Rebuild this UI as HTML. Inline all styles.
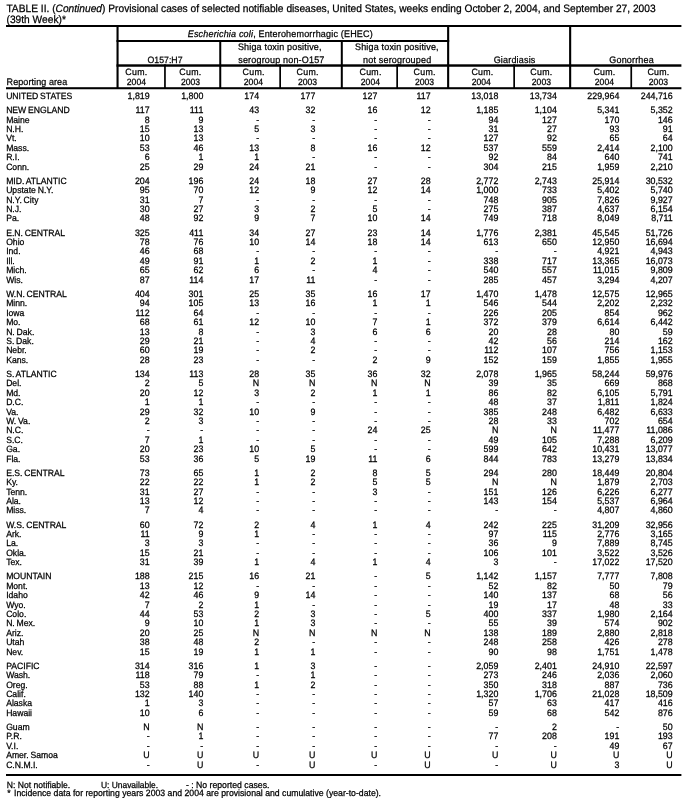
<!DOCTYPE html>
<html><head><meta charset="utf-8"><title>TABLE II</title>
<style>
html,body{margin:0;padding:0;background:#fff}
body{--sy:1.05;--st:0.24px;text-rendering:geometricPrecision;width:687px;height:806px;position:relative;overflow:hidden;font-family:"Liberation Sans",Arial,Helvetica,sans-serif;color:#000}
.x{position:absolute;line-height:10px;white-space:nowrap;transform:scaleY(var(--sy));-webkit-text-stroke:var(--st) #000}
.r{position:absolute;left:0;width:687px;height:10px;font-size:8.7px;line-height:10px;white-space:nowrap;transform:scaleY(var(--sy));transform-origin:0 8.01px;-webkit-text-stroke:var(--st) #000}
.l{position:absolute;left:6.15px;top:0;font-size:8.65px;word-spacing:-0.6px}
.n{position:absolute;top:0;text-align:right;font-size:8.85px}
.c0{right:537.30px}
.c1{right:483.70px}
.c2{right:427.90px}
.c3{right:371.70px}
.c4{right:309.70px}
.c5{right:256.40px}
.c6{right:188.70px}
.c7{right:130.20px}
.c8{right:67.70px}
.c9{right:14.30px}
.g{position:absolute;left:0;top:0}
</style></head><body>
<svg class="g" width="687" height="806" viewBox="0 0 687 806" shape-rendering="geometricPrecision" fill="#000">
<rect x="6.00" y="25.00" width="675.40" height="2.00"/>
<rect x="116.50" y="40.00" width="332.70" height="2.00"/>
<rect x="116.50" y="64.30" width="564.90" height="2.45"/>
<rect x="6.00" y="87.20" width="675.40" height="2.05"/>
<rect x="6.00" y="774.00" width="675.40" height="2.00"/>
<rect x="116.50" y="25.00" width="2.10" height="63.70"/>
<rect x="447.10" y="25.00" width="2.10" height="63.70"/>
<rect x="569.10" y="25.00" width="2.10" height="63.70"/>
<rect x="219.25" y="40.00" width="2.00" height="48.70"/>
<rect x="340.80" y="40.00" width="2.00" height="48.70"/>
<rect x="164.10" y="64.30" width="1.70" height="24.40"/>
<rect x="279.30" y="64.30" width="1.70" height="24.40"/>
<rect x="396.30" y="64.30" width="1.70" height="24.40"/>
<rect x="513.30" y="64.30" width="1.70" height="24.40"/>
<rect x="630.40" y="64.30" width="1.70" height="24.40"/>
</svg>
<div class="x" style="left:130.30px;width:300px;text-align:center;top:29.00px;font-size:9px;transform-origin:0 8.00px;letter-spacing:0.18px;"><i>Escherichia coli</i>, Enterohemorrhagic (EHEC)</div>
<div class="x" style="left:15.00px;width:300px;text-align:center;top:55.00px;font-size:8.75px;transform-origin:0 8.00px;">O157:H7</div>
<div class="x" style="left:129.80px;width:300px;text-align:center;top:42.00px;font-size:9px;transform-origin:0 8.00px;letter-spacing:0.18px;">Shiga toxin positive,</div>
<div class="x" style="left:131.40px;width:300px;text-align:center;top:55.00px;font-size:9px;transform-origin:0 8.00px;letter-spacing:0.18px;">serogroup non-O157</div>
<div class="x" style="left:246.90px;width:300px;text-align:center;top:42.00px;font-size:9px;transform-origin:0 8.00px;letter-spacing:0.18px;">Shiga toxin positive,</div>
<div class="x" style="left:247.20px;width:300px;text-align:center;top:55.00px;font-size:9px;transform-origin:0 8.00px;letter-spacing:0.18px;">not serogrouped</div>
<div class="x" style="left:364.60px;width:300px;text-align:center;top:55.00px;font-size:9px;transform-origin:0 8.00px;letter-spacing:0.18px;">Giardiasis</div>
<div class="x" style="left:481.60px;width:300px;text-align:center;top:55.00px;font-size:9px;transform-origin:0 8.00px;letter-spacing:0.18px;">Gonorrhea</div>
<div class="x" style="left:-13.60px;width:300px;text-align:center;top:67.00px;font-size:8.8px;transform-origin:0 7.90px;letter-spacing:0.3px;">Cum.</div>
<div class="x" style="left:-13.60px;width:300px;text-align:center;top:77.00px;font-size:8.6px;transform-origin:0 8.00px;">2004</div>
<div class="x" style="left:40.40px;width:300px;text-align:center;top:67.00px;font-size:8.8px;transform-origin:0 7.90px;letter-spacing:0.3px;">Cum.</div>
<div class="x" style="left:40.50px;width:300px;text-align:center;top:77.00px;font-size:8.6px;transform-origin:0 8.00px;">2003</div>
<div class="x" style="left:103.70px;width:300px;text-align:center;top:67.00px;font-size:8.8px;transform-origin:0 7.90px;letter-spacing:0.3px;">Cum.</div>
<div class="x" style="left:103.40px;width:300px;text-align:center;top:77.00px;font-size:8.6px;transform-origin:0 8.00px;">2004</div>
<div class="x" style="left:157.70px;width:300px;text-align:center;top:67.00px;font-size:8.8px;transform-origin:0 7.90px;letter-spacing:0.3px;">Cum.</div>
<div class="x" style="left:157.60px;width:300px;text-align:center;top:77.00px;font-size:8.6px;transform-origin:0 8.00px;">2003</div>
<div class="x" style="left:220.60px;width:300px;text-align:center;top:67.00px;font-size:8.8px;transform-origin:0 7.90px;letter-spacing:0.3px;">Cum.</div>
<div class="x" style="left:220.40px;width:300px;text-align:center;top:77.00px;font-size:8.6px;transform-origin:0 8.00px;">2004</div>
<div class="x" style="left:274.70px;width:300px;text-align:center;top:67.00px;font-size:8.8px;transform-origin:0 7.90px;letter-spacing:0.3px;">Cum.</div>
<div class="x" style="left:274.60px;width:300px;text-align:center;top:77.00px;font-size:8.6px;transform-origin:0 8.00px;">2003</div>
<div class="x" style="left:332.50px;width:300px;text-align:center;top:67.00px;font-size:8.8px;transform-origin:0 7.90px;letter-spacing:0.3px;">Cum.</div>
<div class="x" style="left:331.20px;width:300px;text-align:center;top:77.00px;font-size:8.6px;transform-origin:0 8.00px;">2004</div>
<div class="x" style="left:391.40px;width:300px;text-align:center;top:67.00px;font-size:8.8px;transform-origin:0 7.90px;letter-spacing:0.3px;">Cum.</div>
<div class="x" style="left:391.40px;width:300px;text-align:center;top:77.00px;font-size:8.6px;transform-origin:0 8.00px;">2003</div>
<div class="x" style="left:454.50px;width:300px;text-align:center;top:67.00px;font-size:8.8px;transform-origin:0 7.90px;letter-spacing:0.3px;">Cum.</div>
<div class="x" style="left:454.40px;width:300px;text-align:center;top:77.00px;font-size:8.6px;transform-origin:0 8.00px;">2004</div>
<div class="x" style="left:508.50px;width:300px;text-align:center;top:67.00px;font-size:8.8px;transform-origin:0 7.90px;letter-spacing:0.3px;">Cum.</div>
<div class="x" style="left:508.40px;width:300px;text-align:center;top:77.00px;font-size:8.6px;transform-origin:0 8.00px;">2003</div>
<div class="x" style="left:6.60px;top:77.00px;font-size:9px;transform-origin:0 8.00px;letter-spacing:0.08px;">Reporting area</div>
<div class="x" style="left:6.40px;top:5.00px;font-size:10.21px;transform-origin:0 6.90px;">TABLE II. (<i>Continued</i>) Provisional cases of selected notifiable diseases, United States, weeks ending October 2, 2004, and September 27, 2003</div>
<div class="x" style="left:6.50px;top:16.00px;font-size:10.21px;transform-origin:0 6.90px;">(39th Week)*</div>
<div class="x" style="left:6.70px;top:780.00px;font-size:8.6px;transform-origin:0 7.70px;">N: Not notifiable.</div>
<div class="x" style="left:100.90px;top:780.00px;font-size:8.45px;transform-origin:0 7.70px;">U: Unavailable.</div>
<div class="x" style="left:185.90px;top:780.00px;font-size:8.7px;transform-origin:0 7.70px;">- : No reported cases.</div>
<div class="x" style="left:7.30px;top:788.00px;font-size:8.7px;transform-origin:0 7.80px;">*</div>
<div class="x" style="left:14.00px;top:788.00px;font-size:8.7px;transform-origin:0 7.80px;">Incidence data for reporting years 2003 and 2004 are provisional and cumulative (year-to-date).</div>
<div class="r" style="top:91.00px"><span class="l">UNITED STATES</span><span class="n c0">1,819</span><span class="n c1">1,800</span><span class="n c2">174</span><span class="n c3">177</span><span class="n c4">127</span><span class="n c5">117</span><span class="n c6">13,018</span><span class="n c7">13,734</span><span class="n c8">229,964</span><span class="n c9">244,716</span></div>
<div class="r" style="top:105.00px"><span class="l">NEW ENGLAND</span><span class="n c0">117</span><span class="n c1">111</span><span class="n c2">43</span><span class="n c3">32</span><span class="n c4">16</span><span class="n c5">12</span><span class="n c6">1,185</span><span class="n c7">1,104</span><span class="n c8">5,341</span><span class="n c9">5,352</span></div>
<div class="r" style="top:115.00px"><span class="l">Maine</span><span class="n c0">8</span><span class="n c1">9</span><span class="n c2">-</span><span class="n c3">-</span><span class="n c4">-</span><span class="n c5">-</span><span class="n c6">94</span><span class="n c7">127</span><span class="n c8">170</span><span class="n c9">146</span></div>
<div class="r" style="top:124.00px"><span class="l">N.H.</span><span class="n c0">15</span><span class="n c1">13</span><span class="n c2">5</span><span class="n c3">3</span><span class="n c4">-</span><span class="n c5">-</span><span class="n c6">31</span><span class="n c7">27</span><span class="n c8">93</span><span class="n c9">91</span></div>
<div class="r" style="top:133.00px"><span class="l">Vt.</span><span class="n c0">10</span><span class="n c1">13</span><span class="n c2">-</span><span class="n c3">-</span><span class="n c4">-</span><span class="n c5">-</span><span class="n c6">127</span><span class="n c7">92</span><span class="n c8">65</span><span class="n c9">64</span></div>
<div class="r" style="top:143.00px"><span class="l">Mass.</span><span class="n c0">53</span><span class="n c1">46</span><span class="n c2">13</span><span class="n c3">8</span><span class="n c4">16</span><span class="n c5">12</span><span class="n c6">537</span><span class="n c7">559</span><span class="n c8">2,414</span><span class="n c9">2,100</span></div>
<div class="r" style="top:152.00px"><span class="l">R.I.</span><span class="n c0">6</span><span class="n c1">1</span><span class="n c2">1</span><span class="n c3">-</span><span class="n c4">-</span><span class="n c5">-</span><span class="n c6">92</span><span class="n c7">84</span><span class="n c8">640</span><span class="n c9">741</span></div>
<div class="r" style="top:162.00px"><span class="l">Conn.</span><span class="n c0">25</span><span class="n c1">29</span><span class="n c2">24</span><span class="n c3">21</span><span class="n c4">-</span><span class="n c5">-</span><span class="n c6">304</span><span class="n c7">215</span><span class="n c8">1,959</span><span class="n c9">2,210</span></div>
<div class="r" style="top:176.00px"><span class="l">MID. ATLANTIC</span><span class="n c0">204</span><span class="n c1">196</span><span class="n c2">24</span><span class="n c3">18</span><span class="n c4">27</span><span class="n c5">28</span><span class="n c6">2,772</span><span class="n c7">2,743</span><span class="n c8">25,914</span><span class="n c9">30,532</span></div>
<div class="r" style="top:185.00px"><span class="l">Upstate N.Y.</span><span class="n c0">95</span><span class="n c1">70</span><span class="n c2">12</span><span class="n c3">9</span><span class="n c4">12</span><span class="n c5">14</span><span class="n c6">1,000</span><span class="n c7">733</span><span class="n c8">5,402</span><span class="n c9">5,740</span></div>
<div class="r" style="top:195.00px"><span class="l">N.Y. City</span><span class="n c0">31</span><span class="n c1">7</span><span class="n c2">-</span><span class="n c3">-</span><span class="n c4">-</span><span class="n c5">-</span><span class="n c6">748</span><span class="n c7">905</span><span class="n c8">7,826</span><span class="n c9">9,927</span></div>
<div class="r" style="top:204.00px"><span class="l">N.J.</span><span class="n c0">30</span><span class="n c1">27</span><span class="n c2">3</span><span class="n c3">2</span><span class="n c4">5</span><span class="n c5">-</span><span class="n c6">275</span><span class="n c7">387</span><span class="n c8">4,637</span><span class="n c9">6,154</span></div>
<div class="r" style="top:213.00px"><span class="l">Pa.</span><span class="n c0">48</span><span class="n c1">92</span><span class="n c2">9</span><span class="n c3">7</span><span class="n c4">10</span><span class="n c5">14</span><span class="n c6">749</span><span class="n c7">718</span><span class="n c8">8,049</span><span class="n c9">8,711</span></div>
<div class="r" style="top:228.00px"><span class="l">E.N. CENTRAL</span><span class="n c0">325</span><span class="n c1">411</span><span class="n c2">34</span><span class="n c3">27</span><span class="n c4">23</span><span class="n c5">14</span><span class="n c6">1,776</span><span class="n c7">2,381</span><span class="n c8">45,545</span><span class="n c9">51,726</span></div>
<div class="r" style="top:237.00px"><span class="l">Ohio</span><span class="n c0">78</span><span class="n c1">76</span><span class="n c2">10</span><span class="n c3">14</span><span class="n c4">18</span><span class="n c5">14</span><span class="n c6">613</span><span class="n c7">650</span><span class="n c8">12,950</span><span class="n c9">16,694</span></div>
<div class="r" style="top:246.00px"><span class="l">Ind.</span><span class="n c0">46</span><span class="n c1">68</span><span class="n c2">-</span><span class="n c3">-</span><span class="n c4">-</span><span class="n c5">-</span><span class="n c6">-</span><span class="n c7">-</span><span class="n c8">4,921</span><span class="n c9">4,943</span></div>
<div class="r" style="top:256.00px"><span class="l">Ill.</span><span class="n c0">49</span><span class="n c1">91</span><span class="n c2">1</span><span class="n c3">2</span><span class="n c4">1</span><span class="n c5">-</span><span class="n c6">338</span><span class="n c7">717</span><span class="n c8">13,365</span><span class="n c9">16,073</span></div>
<div class="r" style="top:265.00px"><span class="l">Mich.</span><span class="n c0">65</span><span class="n c1">62</span><span class="n c2">6</span><span class="n c3">-</span><span class="n c4">4</span><span class="n c5">-</span><span class="n c6">540</span><span class="n c7">557</span><span class="n c8">11,015</span><span class="n c9">9,809</span></div>
<div class="r" style="top:275.00px"><span class="l">Wis.</span><span class="n c0">87</span><span class="n c1">114</span><span class="n c2">17</span><span class="n c3">11</span><span class="n c4">-</span><span class="n c5">-</span><span class="n c6">285</span><span class="n c7">457</span><span class="n c8">3,294</span><span class="n c9">4,207</span></div>
<div class="r" style="top:289.00px"><span class="l">W.N. CENTRAL</span><span class="n c0">404</span><span class="n c1">301</span><span class="n c2">25</span><span class="n c3">35</span><span class="n c4">16</span><span class="n c5">17</span><span class="n c6">1,470</span><span class="n c7">1,478</span><span class="n c8">12,575</span><span class="n c9">12,965</span></div>
<div class="r" style="top:298.00px"><span class="l">Minn.</span><span class="n c0">94</span><span class="n c1">105</span><span class="n c2">13</span><span class="n c3">16</span><span class="n c4">1</span><span class="n c5">1</span><span class="n c6">546</span><span class="n c7">544</span><span class="n c8">2,202</span><span class="n c9">2,232</span></div>
<div class="r" style="top:308.00px"><span class="l">Iowa</span><span class="n c0">112</span><span class="n c1">64</span><span class="n c2">-</span><span class="n c3">-</span><span class="n c4">-</span><span class="n c5">-</span><span class="n c6">226</span><span class="n c7">205</span><span class="n c8">854</span><span class="n c9">962</span></div>
<div class="r" style="top:317.00px"><span class="l">Mo.</span><span class="n c0">68</span><span class="n c1">61</span><span class="n c2">12</span><span class="n c3">10</span><span class="n c4">7</span><span class="n c5">1</span><span class="n c6">372</span><span class="n c7">379</span><span class="n c8">6,614</span><span class="n c9">6,442</span></div>
<div class="r" style="top:327.00px"><span class="l">N. Dak.</span><span class="n c0">13</span><span class="n c1">8</span><span class="n c2">-</span><span class="n c3">3</span><span class="n c4">6</span><span class="n c5">6</span><span class="n c6">20</span><span class="n c7">28</span><span class="n c8">80</span><span class="n c9">59</span></div>
<div class="r" style="top:336.00px"><span class="l">S. Dak.</span><span class="n c0">29</span><span class="n c1">21</span><span class="n c2">-</span><span class="n c3">4</span><span class="n c4">-</span><span class="n c5">-</span><span class="n c6">42</span><span class="n c7">56</span><span class="n c8">214</span><span class="n c9">162</span></div>
<div class="r" style="top:345.00px"><span class="l">Nebr.</span><span class="n c0">60</span><span class="n c1">19</span><span class="n c2">-</span><span class="n c3">2</span><span class="n c4">-</span><span class="n c5">-</span><span class="n c6">112</span><span class="n c7">107</span><span class="n c8">756</span><span class="n c9">1,153</span></div>
<div class="r" style="top:355.00px"><span class="l">Kans.</span><span class="n c0">28</span><span class="n c1">23</span><span class="n c2">-</span><span class="n c3">-</span><span class="n c4">2</span><span class="n c5">9</span><span class="n c6">152</span><span class="n c7">159</span><span class="n c8">1,855</span><span class="n c9">1,955</span></div>
<div class="r" style="top:369.00px"><span class="l">S. ATLANTIC</span><span class="n c0">134</span><span class="n c1">113</span><span class="n c2">28</span><span class="n c3">35</span><span class="n c4">36</span><span class="n c5">32</span><span class="n c6">2,078</span><span class="n c7">1,965</span><span class="n c8">58,244</span><span class="n c9">59,976</span></div>
<div class="r" style="top:378.00px"><span class="l">Del.</span><span class="n c0">2</span><span class="n c1">5</span><span class="n c2">N</span><span class="n c3">N</span><span class="n c4">N</span><span class="n c5">N</span><span class="n c6">39</span><span class="n c7">35</span><span class="n c8">669</span><span class="n c9">868</span></div>
<div class="r" style="top:388.00px"><span class="l">Md.</span><span class="n c0">20</span><span class="n c1">12</span><span class="n c2">3</span><span class="n c3">2</span><span class="n c4">1</span><span class="n c5">1</span><span class="n c6">86</span><span class="n c7">82</span><span class="n c8">6,105</span><span class="n c9">5,791</span></div>
<div class="r" style="top:397.00px"><span class="l">D.C.</span><span class="n c0">1</span><span class="n c1">1</span><span class="n c2">-</span><span class="n c3">-</span><span class="n c4">-</span><span class="n c5">-</span><span class="n c6">48</span><span class="n c7">37</span><span class="n c8">1,811</span><span class="n c9">1,824</span></div>
<div class="r" style="top:407.00px"><span class="l">Va.</span><span class="n c0">29</span><span class="n c1">32</span><span class="n c2">10</span><span class="n c3">9</span><span class="n c4">-</span><span class="n c5">-</span><span class="n c6">385</span><span class="n c7">248</span><span class="n c8">6,482</span><span class="n c9">6,633</span></div>
<div class="r" style="top:416.00px"><span class="l">W. Va.</span><span class="n c0">2</span><span class="n c1">3</span><span class="n c2">-</span><span class="n c3">-</span><span class="n c4">-</span><span class="n c5">-</span><span class="n c6">28</span><span class="n c7">33</span><span class="n c8">702</span><span class="n c9">654</span></div>
<div class="r" style="top:425.00px"><span class="l">N.C.</span><span class="n c0">-</span><span class="n c1">-</span><span class="n c2">-</span><span class="n c3">-</span><span class="n c4">24</span><span class="n c5">25</span><span class="n c6">N</span><span class="n c7">N</span><span class="n c8">11,477</span><span class="n c9">11,086</span></div>
<div class="r" style="top:435.00px"><span class="l">S.C.</span><span class="n c0">7</span><span class="n c1">1</span><span class="n c2">-</span><span class="n c3">-</span><span class="n c4">-</span><span class="n c5">-</span><span class="n c6">49</span><span class="n c7">105</span><span class="n c8">7,288</span><span class="n c9">6,209</span></div>
<div class="r" style="top:444.00px"><span class="l">Ga.</span><span class="n c0">20</span><span class="n c1">23</span><span class="n c2">10</span><span class="n c3">5</span><span class="n c4">-</span><span class="n c5">-</span><span class="n c6">599</span><span class="n c7">642</span><span class="n c8">10,431</span><span class="n c9">13,077</span></div>
<div class="r" style="top:454.00px"><span class="l">Fla.</span><span class="n c0">53</span><span class="n c1">36</span><span class="n c2">5</span><span class="n c3">19</span><span class="n c4">11</span><span class="n c5">6</span><span class="n c6">844</span><span class="n c7">783</span><span class="n c8">13,279</span><span class="n c9">13,834</span></div>
<div class="r" style="top:468.00px"><span class="l">E.S. CENTRAL</span><span class="n c0">73</span><span class="n c1">65</span><span class="n c2">1</span><span class="n c3">2</span><span class="n c4">8</span><span class="n c5">5</span><span class="n c6">294</span><span class="n c7">280</span><span class="n c8">18,449</span><span class="n c9">20,804</span></div>
<div class="r" style="top:477.00px"><span class="l">Ky.</span><span class="n c0">22</span><span class="n c1">22</span><span class="n c2">1</span><span class="n c3">2</span><span class="n c4">5</span><span class="n c5">5</span><span class="n c6">N</span><span class="n c7">N</span><span class="n c8">1,879</span><span class="n c9">2,703</span></div>
<div class="r" style="top:487.00px"><span class="l">Tenn.</span><span class="n c0">31</span><span class="n c1">27</span><span class="n c2">-</span><span class="n c3">-</span><span class="n c4">3</span><span class="n c5">-</span><span class="n c6">151</span><span class="n c7">126</span><span class="n c8">6,226</span><span class="n c9">6,277</span></div>
<div class="r" style="top:496.00px"><span class="l">Ala.</span><span class="n c0">13</span><span class="n c1">12</span><span class="n c2">-</span><span class="n c3">-</span><span class="n c4">-</span><span class="n c5">-</span><span class="n c6">143</span><span class="n c7">154</span><span class="n c8">5,537</span><span class="n c9">6,964</span></div>
<div class="r" style="top:505.00px"><span class="l">Miss.</span><span class="n c0">7</span><span class="n c1">4</span><span class="n c2">-</span><span class="n c3">-</span><span class="n c4">-</span><span class="n c5">-</span><span class="n c6">-</span><span class="n c7">-</span><span class="n c8">4,807</span><span class="n c9">4,860</span></div>
<div class="r" style="top:520.00px"><span class="l">W.S. CENTRAL</span><span class="n c0">60</span><span class="n c1">72</span><span class="n c2">2</span><span class="n c3">4</span><span class="n c4">1</span><span class="n c5">4</span><span class="n c6">242</span><span class="n c7">225</span><span class="n c8">31,209</span><span class="n c9">32,956</span></div>
<div class="r" style="top:529.00px"><span class="l">Ark.</span><span class="n c0">11</span><span class="n c1">9</span><span class="n c2">1</span><span class="n c3">-</span><span class="n c4">-</span><span class="n c5">-</span><span class="n c6">97</span><span class="n c7">115</span><span class="n c8">2,776</span><span class="n c9">3,165</span></div>
<div class="r" style="top:538.00px"><span class="l">La.</span><span class="n c0">3</span><span class="n c1">3</span><span class="n c2">-</span><span class="n c3">-</span><span class="n c4">-</span><span class="n c5">-</span><span class="n c6">36</span><span class="n c7">9</span><span class="n c8">7,889</span><span class="n c9">8,745</span></div>
<div class="r" style="top:548.00px"><span class="l">Okla.</span><span class="n c0">15</span><span class="n c1">21</span><span class="n c2">-</span><span class="n c3">-</span><span class="n c4">-</span><span class="n c5">-</span><span class="n c6">106</span><span class="n c7">101</span><span class="n c8">3,522</span><span class="n c9">3,526</span></div>
<div class="r" style="top:557.00px"><span class="l">Tex.</span><span class="n c0">31</span><span class="n c1">39</span><span class="n c2">1</span><span class="n c3">4</span><span class="n c4">1</span><span class="n c5">4</span><span class="n c6">3</span><span class="n c7">-</span><span class="n c8">17,022</span><span class="n c9">17,520</span></div>
<div class="r" style="top:571.00px"><span class="l">MOUNTAIN</span><span class="n c0">188</span><span class="n c1">215</span><span class="n c2">16</span><span class="n c3">21</span><span class="n c4">-</span><span class="n c5">5</span><span class="n c6">1,142</span><span class="n c7">1,157</span><span class="n c8">7,777</span><span class="n c9">7,808</span></div>
<div class="r" style="top:581.00px"><span class="l">Mont.</span><span class="n c0">13</span><span class="n c1">12</span><span class="n c2">-</span><span class="n c3">-</span><span class="n c4">-</span><span class="n c5">-</span><span class="n c6">52</span><span class="n c7">82</span><span class="n c8">50</span><span class="n c9">79</span></div>
<div class="r" style="top:590.00px"><span class="l">Idaho</span><span class="n c0">42</span><span class="n c1">46</span><span class="n c2">9</span><span class="n c3">14</span><span class="n c4">-</span><span class="n c5">-</span><span class="n c6">140</span><span class="n c7">137</span><span class="n c8">68</span><span class="n c9">56</span></div>
<div class="r" style="top:600.00px"><span class="l">Wyo.</span><span class="n c0">7</span><span class="n c1">2</span><span class="n c2">1</span><span class="n c3">-</span><span class="n c4">-</span><span class="n c5">-</span><span class="n c6">19</span><span class="n c7">17</span><span class="n c8">48</span><span class="n c9">33</span></div>
<div class="r" style="top:609.00px"><span class="l">Colo.</span><span class="n c0">44</span><span class="n c1">53</span><span class="n c2">2</span><span class="n c3">3</span><span class="n c4">-</span><span class="n c5">5</span><span class="n c6">400</span><span class="n c7">337</span><span class="n c8">1,980</span><span class="n c9">2,164</span></div>
<div class="r" style="top:618.00px"><span class="l">N. Mex.</span><span class="n c0">9</span><span class="n c1">10</span><span class="n c2">1</span><span class="n c3">3</span><span class="n c4">-</span><span class="n c5">-</span><span class="n c6">55</span><span class="n c7">39</span><span class="n c8">574</span><span class="n c9">902</span></div>
<div class="r" style="top:628.00px"><span class="l">Ariz.</span><span class="n c0">20</span><span class="n c1">25</span><span class="n c2">N</span><span class="n c3">N</span><span class="n c4">N</span><span class="n c5">N</span><span class="n c6">138</span><span class="n c7">189</span><span class="n c8">2,880</span><span class="n c9">2,818</span></div>
<div class="r" style="top:637.00px"><span class="l">Utah</span><span class="n c0">38</span><span class="n c1">48</span><span class="n c2">2</span><span class="n c3">-</span><span class="n c4">-</span><span class="n c5">-</span><span class="n c6">248</span><span class="n c7">258</span><span class="n c8">426</span><span class="n c9">278</span></div>
<div class="r" style="top:647.00px"><span class="l">Nev.</span><span class="n c0">15</span><span class="n c1">19</span><span class="n c2">1</span><span class="n c3">1</span><span class="n c4">-</span><span class="n c5">-</span><span class="n c6">90</span><span class="n c7">98</span><span class="n c8">1,751</span><span class="n c9">1,478</span></div>
<div class="r" style="top:661.00px"><span class="l">PACIFIC</span><span class="n c0">314</span><span class="n c1">316</span><span class="n c2">1</span><span class="n c3">3</span><span class="n c4">-</span><span class="n c5">-</span><span class="n c6">2,059</span><span class="n c7">2,401</span><span class="n c8">24,910</span><span class="n c9">22,597</span></div>
<div class="r" style="top:670.00px"><span class="l">Wash.</span><span class="n c0">118</span><span class="n c1">79</span><span class="n c2">-</span><span class="n c3">1</span><span class="n c4">-</span><span class="n c5">-</span><span class="n c6">273</span><span class="n c7">246</span><span class="n c8">2,036</span><span class="n c9">2,060</span></div>
<div class="r" style="top:680.00px"><span class="l">Oreg.</span><span class="n c0">53</span><span class="n c1">88</span><span class="n c2">1</span><span class="n c3">2</span><span class="n c4">-</span><span class="n c5">-</span><span class="n c6">350</span><span class="n c7">318</span><span class="n c8">887</span><span class="n c9">736</span></div>
<div class="r" style="top:689.00px"><span class="l">Calif.</span><span class="n c0">132</span><span class="n c1">140</span><span class="n c2">-</span><span class="n c3">-</span><span class="n c4">-</span><span class="n c5">-</span><span class="n c6">1,320</span><span class="n c7">1,706</span><span class="n c8">21,028</span><span class="n c9">18,509</span></div>
<div class="r" style="top:698.00px"><span class="l">Alaska</span><span class="n c0">1</span><span class="n c1">3</span><span class="n c2">-</span><span class="n c3">-</span><span class="n c4">-</span><span class="n c5">-</span><span class="n c6">57</span><span class="n c7">63</span><span class="n c8">417</span><span class="n c9">416</span></div>
<div class="r" style="top:708.00px"><span class="l">Hawaii</span><span class="n c0">10</span><span class="n c1">6</span><span class="n c2">-</span><span class="n c3">-</span><span class="n c4">-</span><span class="n c5">-</span><span class="n c6">59</span><span class="n c7">68</span><span class="n c8">542</span><span class="n c9">876</span></div>
<div class="r" style="top:722.00px"><span class="l">Guam</span><span class="n c0">N</span><span class="n c1">N</span><span class="n c2">-</span><span class="n c3">-</span><span class="n c4">-</span><span class="n c5">-</span><span class="n c6">-</span><span class="n c7">2</span><span class="n c8">-</span><span class="n c9">50</span></div>
<div class="r" style="top:731.00px"><span class="l">P.R.</span><span class="n c0">-</span><span class="n c1">1</span><span class="n c2">-</span><span class="n c3">-</span><span class="n c4">-</span><span class="n c5">-</span><span class="n c6">77</span><span class="n c7">208</span><span class="n c8">191</span><span class="n c9">193</span></div>
<div class="r" style="top:741.00px"><span class="l">V.I.</span><span class="n c0">-</span><span class="n c1">-</span><span class="n c2">-</span><span class="n c3">-</span><span class="n c4">-</span><span class="n c5">-</span><span class="n c6">-</span><span class="n c7">-</span><span class="n c8">49</span><span class="n c9">67</span></div>
<div class="r" style="top:750.00px"><span class="l">Amer. Samoa</span><span class="n c0">U</span><span class="n c1">U</span><span class="n c2">U</span><span class="n c3">U</span><span class="n c4">U</span><span class="n c5">U</span><span class="n c6">U</span><span class="n c7">U</span><span class="n c8">U</span><span class="n c9">U</span></div>
<div class="r" style="top:760.00px"><span class="l">C.N.M.I.</span><span class="n c0">-</span><span class="n c1">U</span><span class="n c2">-</span><span class="n c3">U</span><span class="n c4">-</span><span class="n c5">U</span><span class="n c6">-</span><span class="n c7">U</span><span class="n c8">3</span><span class="n c9">U</span></div>
</body></html>
